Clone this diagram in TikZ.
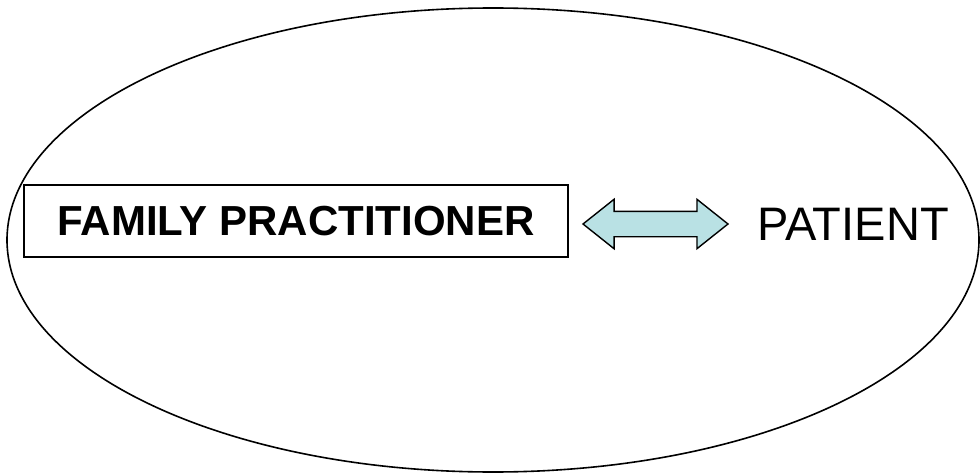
\documentclass[tikz,border=0pt]{standalone}
\usepackage{fontspec}
\setmainfont{Liberation Sans}
\usetikzlibrary{shapes.arrows}
\definecolor{arrowfill}{RGB}{185,225,228}
\tikzset{
  outline/.style={draw=black, line width=1.6pt},
  labelbox/.style={outline, line width=1.4pt, minimum width=544pt, minimum height=72pt, inner sep=0pt, font=\fontsize{42}{48}\selectfont\bfseries},
  twoway/.style={double arrow, outline, line width=1.4pt, fill=arrowfill, minimum height=145pt, inner xsep=0pt, inner ysep=12pt, text height=0pt, text depth=0pt, double arrow head extend=12pt, double arrow tip angle=77},
  plain/.style={inner sep=0pt, font=\fontsize{47}{54}\selectfont}
}
\begin{document}
\begin{tikzpicture}[x=1pt,y=1pt]
\useasboundingbox (0,0) rectangle (980,475);
\fill[white] (0,0) rectangle (980,475);
\draw[outline] (493,235) ellipse [x radius=486, y radius=232];
\node[labelbox, fill=white] (fp) at (296,254) {FAMILY PRACTITIONER};
\node[twoway] (arr) at (655.5,251) {};
\node[plain, anchor=west] (pat) at (757,251) {PATIENT};
\end{tikzpicture}
\end{document}
